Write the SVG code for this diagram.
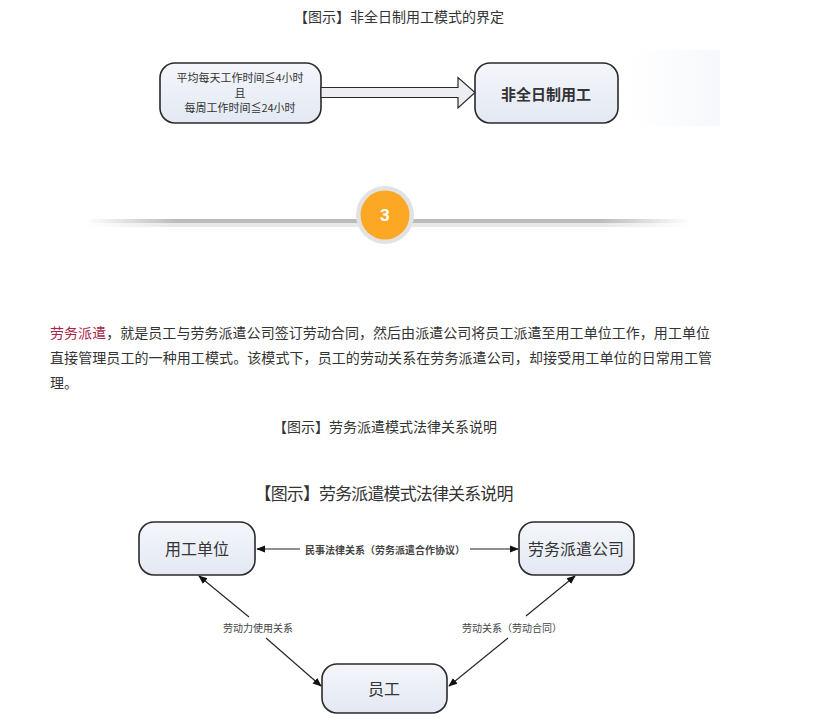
<svg xmlns="http://www.w3.org/2000/svg" width="833" height="725" viewBox="0 0 833 725">
<defs>
<style>
.cap{font-family:"Noto Sans CJK SC","Noto Sans",sans-serif;font-size:14px;fill:#333;text-anchor:middle}
.para{font-family:"Noto Sans CJK SC","Noto Sans",sans-serif;font-size:14px;fill:#333}
.box{fill:url(#boxg);stroke:#2a2a2a;stroke-width:1.6}
.bt{font-family:"Noto Sans CJK SC",sans-serif;fill:#333;text-anchor:middle;dominant-baseline:central}
.lbl{font-family:"Noto Sans CJK SC",sans-serif;font-size:10px;fill:#444;text-anchor:middle;dominant-baseline:central}
.conn{stroke:#222;stroke-width:1.1;fill:none}
</style>
<linearGradient id="boxg" x1="0" y1="0" x2="0" y2="1">
<stop offset="0" stop-color="#f4f6fb"/>
<stop offset="1" stop-color="#e3e8f3"/>
</linearGradient>
<linearGradient id="lineg" x1="0" y1="0" x2="1" y2="0">
<stop offset="0" stop-color="#bbb" stop-opacity="0"/>
<stop offset="0.15" stop-color="#bbb" stop-opacity="1"/>
<stop offset="0.85" stop-color="#bbb" stop-opacity="1"/>
<stop offset="1" stop-color="#bbb" stop-opacity="0"/>
</linearGradient>
<linearGradient id="bgg" x1="0" y1="0" x2="1" y2="0">
<stop offset="0" stop-color="#fbfcfe" stop-opacity="0"/>
<stop offset="1" stop-color="#f5f7fb"/>
</linearGradient>
<marker id="ah" viewBox="0 0 10 10" refX="9" refY="5" markerWidth="9" markerHeight="9" markerUnits="userSpaceOnUse" orient="auto-start-reverse">
<path d="M0,1 L10,5 L0,9 Z" fill="#111"/>
</marker>
</defs>
<rect width="833" height="725" fill="#fff"/>

<text class="cap" x="399" y="22">【图示】非全日制用工模式的界定</text>

<rect x="620" y="50" width="100" height="76" fill="url(#bgg)"/>

<g id="node-condition">
<rect class="box" x="160" y="63" width="161" height="60" rx="15"/>
<text class="bt" x="240" y="77" font-size="11">平均每天工作时间≦4小时</text>
<text class="bt" x="240" y="92" font-size="11">且</text>
<text class="bt" x="240" y="107" font-size="11">每周工作时间≦24小时</text>
</g>
<g id="node-parttime">
<rect class="box" x="475" y="63" width="143" height="60" rx="15"/>
<text class="bt" x="546" y="93" font-size="15" font-weight="bold">非全日制用工</text>
</g>
<g id="connectors-top">
<path d="M321,87.5 L458,87.5 L458,77.5 L475,92.5 L458,108 L458,97.5 L321,97.5 Z" fill="#eceef2" stroke="#2a2a2a" stroke-width="1.2"/>
</g>

<g id="divider">
<rect x="86" y="219" width="604" height="4" fill="url(#lineg)"/>
<rect x="86" y="223" width="604" height="4" fill="url(#lineg)" opacity="0.35"/>
<circle cx="385" cy="215" r="29" fill="#e2e2e2"/>
<circle cx="385" cy="215" r="24.5" fill="#fca824"/>
<text x="385" y="221" font-family="Roboto,'Liberation Sans',sans-serif" font-size="17" font-weight="bold" fill="#fff" text-anchor="middle">3</text>
</g>

<text class="para" x="50" y="338" textLength="660" lengthAdjust="spacing"><tspan fill="#a8254a">劳务派遣</tspan>，就是员工与劳务派遣公司签订劳动合同，然后由派遣公司将员工派遣至用工单位工作，用工单位</text>
<text class="para" x="50" y="363" textLength="662" lengthAdjust="spacing">直接管理员工的一种用工模式。该模式下，员工的劳动关系在劳务派遣公司，却接受用工单位的日常用工管</text>
<text class="para" x="50" y="388">理。</text>

<text class="cap" x="385" y="432">【图示】劳务派遣模式法律关系说明</text>

<text x="384" y="500" font-family="'Noto Sans CJK SC',sans-serif" font-size="17" fill="#333" text-anchor="middle" textLength="259" lengthAdjust="spacing">【图示】劳务派遣模式法律关系说明</text>

<g id="connectors">
<line class="conn" x1="300" y1="549" x2="257" y2="549" marker-end="url(#ah)"/>
<line class="conn" x1="470" y1="549" x2="518" y2="549" marker-end="url(#ah)"/>
<text class="lbl" x="385" y="549" font-weight="bold">民事法律关系（劳务派遣合作协议）</text>
<line class="conn" x1="249" y1="617" x2="199" y2="576" marker-end="url(#ah)"/>
<line class="conn" x1="266" y1="638" x2="321" y2="686" marker-end="url(#ah)"/>
<text class="lbl" x="258" y="627">劳动力使用关系</text>
<line class="conn" x1="526" y1="616" x2="575" y2="576" marker-end="url(#ah)"/>
<line class="conn" x1="508" y1="638" x2="449" y2="686" marker-end="url(#ah)"/>
<text class="lbl" x="512" y="627">劳动关系（劳动合同）</text>
</g>

<g id="node-employer">
<rect class="box" x="139" y="522" width="116" height="53" rx="15"/>
<text class="bt" x="197" y="548" font-size="16">用工单位</text>
</g>
<g id="node-agency">
<rect class="box" x="519" y="522" width="115" height="53" rx="15"/>
<text class="bt" x="576" y="548" font-size="16">劳务派遣公司</text>
</g>
<g id="node-employee">
<rect class="box" x="322" y="664" width="125" height="49" rx="15"/>
<text class="bt" x="384" y="688" font-size="16">员工</text>
</g>
</svg>
